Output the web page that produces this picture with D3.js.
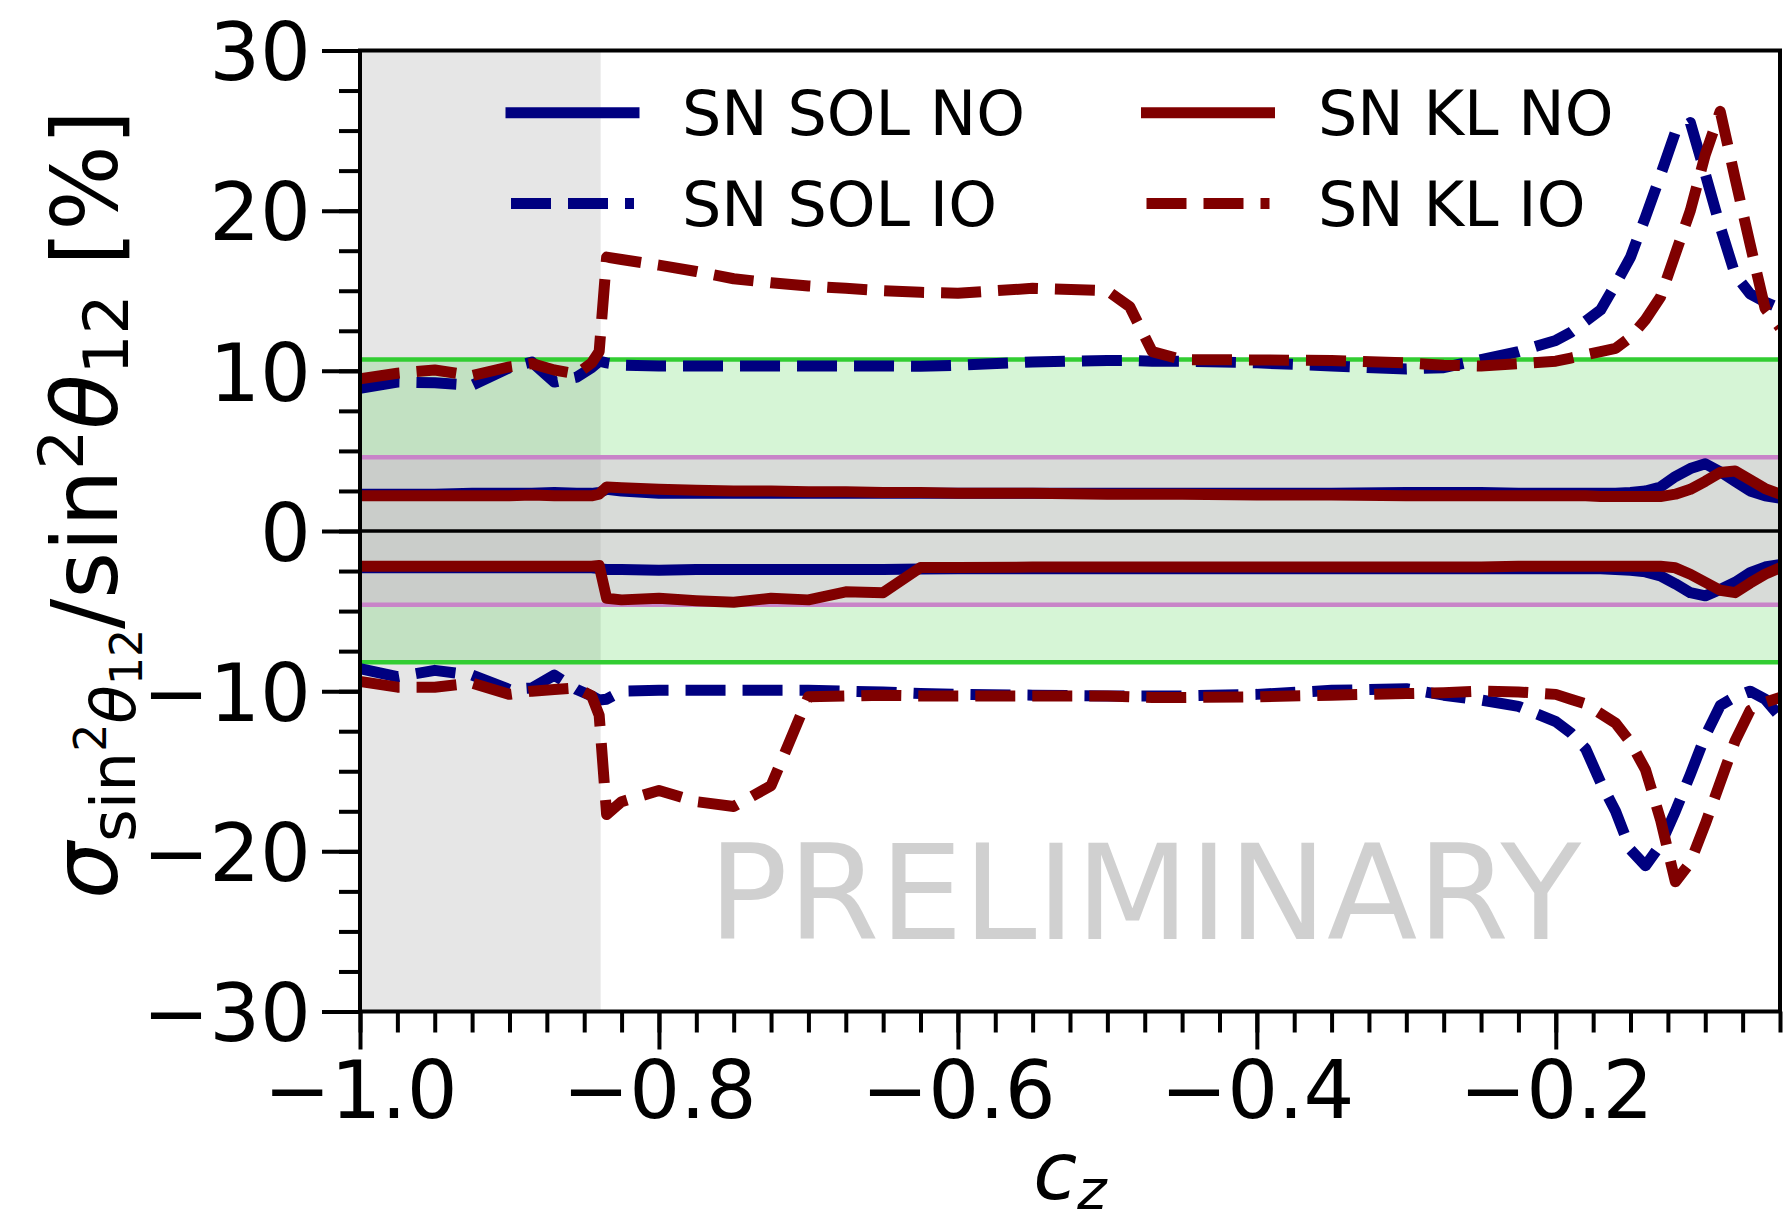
<!DOCTYPE html>
<html>
<head>
<meta charset="utf-8">
<script src="https://cdn.jsdelivr.net/npm/d3@7"></script>
<style>
  body { margin: 0; background: #ffffff; }
  svg { display: block; }
  text { font-family: "DejaVu Sans"; white-space: pre; }
</style>
</head>
<body>
<svg id="chart" width="1784" height="1222"></svg>
<script>
// ---- data -------------------------------------------------------------
// zenith-angle cosine grid shared by all curves
const cz = [-1.0, -0.975, -0.95, -0.925, -0.9, -0.885, -0.87, -0.855, -0.845, -0.84,
  -0.835, -0.825, -0.8, -0.775, -0.75, -0.725, -0.7, -0.675, -0.65, -0.625,
  -0.6, -0.55, -0.5, -0.485, -0.47, -0.45, -0.4, -0.35, -0.3, -0.275,
  -0.25, -0.225, -0.2, -0.19, -0.18, -0.17, -0.16, -0.15, -0.14, -0.13,
  -0.12, -0.11, -0.1, -0.09, -0.08, -0.07, -0.06, -0.05];

// relative uncertainty on sin^2(theta12) [%], upper and lower edges
const solNoUpper = [2.3, 2.3, 2.3, 2.35, 2.35, 2.35, 2.4, 2.35, 2.35, 2.4,
  2.6, 2.5, 2.35, 2.35, 2.35, 2.35, 2.35, 2.35, 2.35, 2.35,
  2.35, 2.35, 2.35, 2.35, 2.35, 2.35, 2.35, 2.35, 2.4, 2.4,
  2.4, 2.35, 2.35, 2.35, 2.35, 2.35, 2.35, 2.4, 2.5, 2.75,
  3.4, 3.9, 4.2, 3.7, 3.1, 2.5, 2.2, 2.05];
const solNoLower = [-2.3, -2.3, -2.3, -2.3, -2.3, -2.3, -2.3, -2.3, -2.3, -2.35,
  -2.4, -2.4, -2.45, -2.4, -2.4, -2.4, -2.4, -2.4, -2.4, -2.38,
  -2.35, -2.35, -2.35, -2.35, -2.35, -2.35, -2.35, -2.35, -2.35, -2.35,
  -2.35, -2.35, -2.35, -2.35, -2.35, -2.35, -2.4, -2.45, -2.55, -2.8,
  -3.3, -3.85, -4.05, -3.65, -3.2, -2.6, -2.25, -2.1];
const solIoUpper = [8.9, 9.3, 9.25, 9.1, 10.2, 10.55, 9.3, 9.6, 10.2, 10.6,
  10.5, 10.35, 10.3, 10.3, 10.3, 10.3, 10.3, 10.3, 10.3, 10.28,
  10.35, 10.55, 10.65, 10.65, 10.6, 10.6, 10.5, 10.3, 10.12, 10.2,
  10.7, 11.2, 11.9, 12.4, 13.1, 13.8, 15.4, 17.1, 19.6, 22.2,
  24.9, 25.5, 22.3, 19.0, 16.0, 14.8, 14.3, 13.9];
const solIoLower = [-8.6, -9.1, -8.7, -9.0, -9.9, -9.8, -9.0, -9.9, -10.3, -10.55,
  -10.5, -10.0, -9.95, -9.95, -9.95, -9.95, -9.95, -10.0, -10.05, -10.15,
  -10.2, -10.25, -10.3, -10.3, -10.3, -10.3, -10.2, -9.95, -9.85, -10.25,
  -10.55, -10.95, -11.9, -12.6, -13.6, -15.7, -17.5, -19.9, -20.9, -19.6,
  -17.5, -15.2, -12.8, -10.9, -10.35, -10.0, -10.5, -11.6];
const klNoUpper = [2.2, 2.2, 2.2, 2.2, 2.2, 2.25, 2.2, 2.2, 2.2, 2.3,
  2.75, 2.7, 2.6, 2.55, 2.5, 2.5, 2.45, 2.45, 2.4, 2.4,
  2.35, 2.35, 2.3, 2.3, 2.3, 2.3, 2.25, 2.25, 2.2, 2.2,
  2.2, 2.2, 2.2, 2.2, 2.2, 2.15, 2.15, 2.15, 2.15, 2.15,
  2.3, 2.6, 3.1, 3.65, 3.75, 3.2, 2.65, 2.3];
const klNoLower = [-2.2, -2.2, -2.2, -2.2, -2.2, -2.2, -2.2, -2.2, -2.2, -2.15,
  -4.2, -4.3, -4.2, -4.35, -4.45, -4.2, -4.3, -3.8, -3.85, -2.28,
  -2.28, -2.25, -2.25, -2.25, -2.25, -2.25, -2.25, -2.25, -2.25, -2.25,
  -2.25, -2.2, -2.2, -2.2, -2.2, -2.2, -2.2, -2.2, -2.2, -2.2,
  -2.3, -2.7, -3.2, -3.7, -3.85, -3.25, -2.7, -2.3];
const klIoUpper = [9.5, 9.85, 10.05, 9.7, 10.25, 10.45, 10.05, 9.8, 10.5, 11.2,
  17.1, 16.95, 16.6, 16.2, 15.75, 15.5, 15.3, 15.15, 15.0, 14.9,
  14.85, 15.15, 15.0, 14.0, 11.2, 10.7, 10.68, 10.65, 10.5, 10.35,
  10.3, 10.45, 10.6, 10.8, 11.0, 11.2, 11.4, 12.1, 13.2, 14.6,
  17.3, 20.0, 23.5, 26.2, 22.0, 17.9, 13.9, 12.7];
const klIoLower = [-9.4, -9.75, -9.75, -9.5, -10.2, -10.0, -9.9, -9.8, -10.3, -11.5,
  -17.7, -16.9, -16.2, -16.9, -17.2, -15.9, -10.35, -10.3, -10.25, -10.3,
  -10.3, -10.3, -10.3, -10.35, -10.4, -10.4, -10.35, -10.25, -10.15, -10.1,
  -10.0, -10.05, -10.2, -10.5, -10.8, -11.4, -12.0, -13.2, -14.9, -18.0,
  -21.9, -20.7, -18.3, -15.7, -13.1, -11.2, -10.7, -10.4];

const seriesLabels = ["SN SOL NO", "SN SOL IO", "SN KL NO", "SN KL IO"];
const xTicks = [-1.0, -0.8, -0.6, -0.4, -0.2];
const yTicks = [-30, -20, -10, 0, 10, 20, 30];
const shadedCz = [-1.0, -0.839];      // excluded zenith range
const greenBand = [-8.2, 10.7];       // outer reference band [%]
const plumBand = [-4.6, 4.6];         // inner reference band [%]

// ---- layout -----------------------------------------------------------
const plotL = 360, plotR = 1780, plotT = 50.5, plotB = 1011.5;
const navy = "#000080", maroon = "#800000";
const lw = 11;
const dash = "40,17";
const tickFont = 80;

const x = d3.scaleLinear().domain([-1.0, -0.05]).range([plotL, plotR]);
const y = d3.scaleLinear().domain([-30, 30]).range([plotB, plotT]);

const svg = d3.select("#chart");
svg.append("rect").attr("width", 1784).attr("height", 1222).attr("fill", "#ffffff");

svg.append("defs").append("clipPath").attr("id", "plot-clip")
  .append("rect").attr("x", plotL).attr("y", plotT)
  .attr("width", plotR - plotL).attr("height", plotB - plotT);

const plot = svg.append("g").attr("clip-path", "url(#plot-clip)");
const [xMin, xMax] = x.domain();

// excluded region
plot.append("rect")
  .attr("x", x(shadedCz[0])).attr("width", x(shadedCz[1]) - x(shadedCz[0]))
  .attr("y", y(30)).attr("height", y(-30) - y(30))
  .attr("fill", "#808080").attr("fill-opacity", 0.2);

// reference bands
function band(lim, fill, alpha, edge, edgeAlpha) {
  plot.append("rect")
    .attr("x", x(xMin)).attr("width", x(xMax) - x(xMin))
    .attr("y", y(lim[1])).attr("height", y(lim[0]) - y(lim[1]))
    .attr("fill", fill).attr("fill-opacity", alpha);
  lim.forEach(v => plot.append("line")
    .attr("x1", x(xMin)).attr("x2", x(xMax))
    .attr("y1", y(v)).attr("y2", y(v))
    .attr("stroke", edge).attr("stroke-opacity", edgeAlpha).attr("stroke-width", 4.5));
}
band(greenBand, "#32cd32", 0.2, "#32cd32", 1);
band(plumBand, "#dda0dd", 0.3, "#c884c8", 1);

// zero line
plot.append("line")
  .attr("x1", x(xMin)).attr("x2", x(xMax)).attr("y1", y(0)).attr("y2", y(0))
  .attr("stroke", "#000").attr("stroke-width", 3.5);

// curves
const series = [
  { label: seriesLabels[0], color: navy, dashed: false, edges: [solNoUpper, solNoLower] },
  { label: seriesLabels[1], color: navy, dashed: true, edges: [solIoUpper, solIoLower] },
  { label: seriesLabels[2], color: maroon, dashed: false, edges: [klNoUpper, klNoLower] },
  { label: seriesLabels[3], color: maroon, dashed: true, edges: [klIoUpper, klIoLower] }
];

const line = d3.line().x((d, i) => x(cz[i])).y(d => y(d));

series.forEach(s => {
  s.edges.forEach(vals => {
    plot.append("path")
      .attr("d", line(vals))
      .attr("fill", "none")
      .attr("stroke", s.color)
      .attr("stroke-width", lw)
      .attr("stroke-linejoin", "round")
      .attr("stroke-linecap", s.dashed ? "butt" : "square")
      .attr("stroke-dasharray", s.dashed ? dash : null);
  });
});

// watermark
plot.append("text")
  .attr("x", x(-0.475)).attr("y", y(-25.5))
  .attr("text-anchor", "middle")
  .attr("font-size", 132)
  .attr("fill", "#808080").attr("fill-opacity", 0.37)
  .text("PRELIMINARY");

// ---- axes -------------------------------------------------------------
function styleAxis(g, labelSize) {
  g.attr("font-family", null).attr("font-size", null);
  g.select(".domain").remove();
  g.selectAll(".tick line").attr("stroke", "#000").attr("stroke-width", 4);
  g.selectAll(".tick text").attr("fill", "#000")
    .attr("font-family", "DejaVu Sans").attr("font-size", labelSize);
}

const minorX = d3.range(0, 39).map(i => -1 + i * 0.025);
const minorY = d3.range(0, 25).map(i => -30 + i * 2.5);

svg.append("g").attr("transform", `translate(0,${plotB})`)
  .call(d3.axisBottom(x).tickValues(minorX).tickSize(21).tickFormat(""))
  .call(g => styleAxis(g, 0));
svg.append("g").attr("transform", `translate(${plotL},0)`)
  .call(d3.axisLeft(y).tickValues(minorY).tickSize(21).tickFormat(""))
  .call(g => styleAxis(g, 0));

svg.append("g").attr("transform", `translate(0,${plotB})`)
  .call(d3.axisBottom(x).tickValues(xTicks).tickFormat(d3.format(".1f")).tickSize(38).tickPadding(11.5))
  .call(g => styleAxis(g, tickFont));
svg.append("g").attr("transform", `translate(${plotL},0)`)
  .call(d3.axisLeft(y).tickValues(yTicks).tickFormat(d3.format("d")).tickSize(38).tickPadding(11))
  .call(g => styleAxis(g, tickFont))
  .call(g => g.selectAll(".tick text").attr("dy", "0.365em"));

// frame
svg.append("rect")
  .attr("x", plotL).attr("y", plotT)
  .attr("width", plotR - plotL).attr("height", plotB - plotT)
  .attr("fill", "none").attr("stroke", "#000").attr("stroke-width", 4);

// x label: c_z
const xl = svg.append("text")
  .attr("x", (plotL + plotR) / 2).attr("y", 1199)
  .attr("text-anchor", "middle").attr("font-size", 80);
xl.append("tspan").attr("font-style", "italic").text("c");
xl.append("tspan").attr("font-style", "italic").attr("font-size", 56).attr("dy", 10).text("z");

// y label: sigma_{sin^2 theta_12} / sin^2 theta_12 [%]
const F = 90;
const yParts = [
  { t: "σ", s: 1, it: true, sh: 0 },
  { t: "sin", s: 0.7, sh: 0.2 },
  { t: "2", s: 0.49, sh: -0.12 },
  { t: "θ", s: 0.7, it: true, sh: 0.2 },
  { t: "12", s: 0.49, sh: 0.28 },
  { t: "/sin", s: 1, sh: 0 },
  { t: "2", s: 0.7, sh: -0.38 },
  { t: "θ", s: 1, it: true, sh: 0 },
  { t: "12", s: 0.7, sh: 0.12 },
  { t: " [%]", s: 1, sh: 0 }
];
const yl = svg.append("text")
  .attr("transform", `translate(117,899) rotate(-90)`)
  .attr("font-size", F);
let prev = 0;
yParts.forEach(p => {
  yl.append("tspan")
    .attr("font-size", F * p.s)
    .attr("font-style", p.it ? "italic" : null)
    .attr("dy", (p.sh - prev) * F)
    .text(p.t);
  prev = p.sh;
});

// legend (two columns, no frame)
const legendCols = [{ hx: 511, tx: 682 }, { hx: 1146.5, tx: 1318 }];
const legendRows = [112.7, 203.6];
const handleLen = 123;
series.forEach((s, i) => {
  const c = legendCols[Math.floor(i / 2)], r = legendRows[i % 2];
  svg.append("line")
    .attr("x1", c.hx).attr("x2", c.hx + handleLen)
    .attr("y1", r).attr("y2", r)
    .attr("stroke", s.color).attr("stroke-width", lw)
    .attr("stroke-linecap", s.dashed ? "butt" : "square")
    .attr("stroke-dasharray", s.dashed ? dash : null);
  svg.append("text")
    .attr("x", c.tx).attr("y", r + 22.3)
    .attr("font-size", 62).attr("fill", "#000")
    .text(s.label);
});
</script>
</body>
</html>
